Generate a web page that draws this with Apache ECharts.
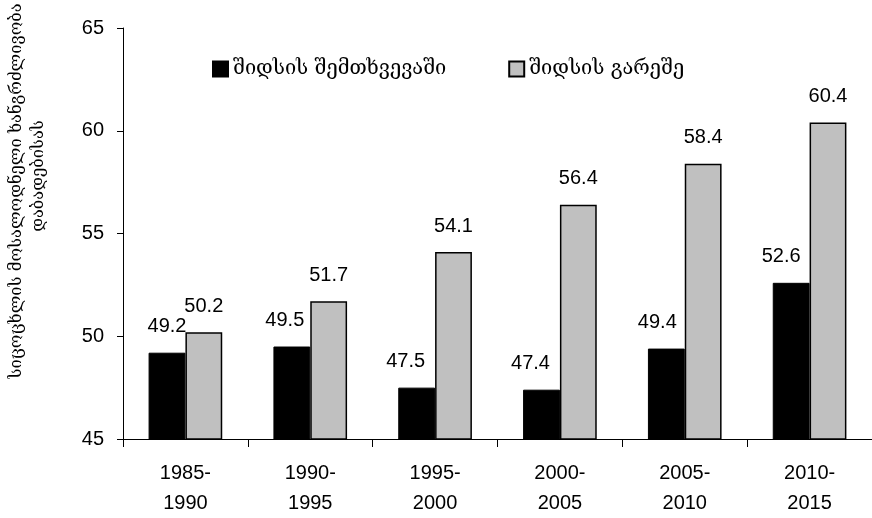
<!DOCTYPE html>
<html>
<head>
<meta charset="utf-8">
<script src="https://cdn.jsdelivr.net/npm/echarts@6/dist/echarts.min.js"></script>
<style>
  html, body { margin: 0; padding: 0; background: #fff; }
  #chart { width: 872px; height: 518px; }
</style>
</head>
<body>
<div id="chart"></div>
<script>
// Life expectancy at birth, by five-year period, with and without AIDS
const periods = ['1985-\n1990', '1990-\n1995', '1995-\n2000', '2000-\n2005', '2005-\n2010', '2010-\n2015'];
const withAids = [49.2, 49.5, 47.5, 47.4, 49.4, 52.6];
const withoutAids = [50.2, 51.7, 54.1, 56.4, 58.4, 60.4];
const seriesNames = ['შიდსის შემთხვევაში', 'შიდსის გარეშე'];
const yTitleLines = ['სიცოცხლის მოსალოდნელი ხანგრძლივობა', 'დაბადებისას'];

// horizontal nudge of the dark-bar value labels so they clear the grey bars
const darkLabelShift = [0, -7, -11, -11, -9, -10];

const latin = 'Liberation Sans, Arial, sans-serif';
const geo = 'DejaVu Serif, DejaVu Sans, serif';

const valueLabel = {
  show: true, position: 'top', distance: 16,
  color: '#000', fontFamily: latin, fontSize: 20,
  formatter: p => p.value.toFixed(1)
};

const chart = echarts.init(document.getElementById('chart'));
chart.setOption({
  animation: false,
  backgroundColor: '#ffffff',
  grid: { left: 123, top: 28, width: 758, height: 411, containLabel: false },
  legend: {
    top: 54,
    left: 207,
    itemWidth: 15,
    itemHeight: 15,
    itemGap: 62,
    textStyle: { fontFamily: geo, fontSize: 20, color: '#000' },
    data: [
      { name: seriesNames[0], icon: 'rect' },
      { name: seriesNames[1], icon: 'rect', itemStyle: { borderWidth: 2, borderColor: '#000' } }
    ]
  },
  xAxis: {
    type: 'category',
    data: periods,
    axisLine: { lineStyle: { color: '#000', width: 1 } },
    axisTick: { show: true, length: 8, lineStyle: { color: '#000' } },
    axisLabel: { color: '#000', fontFamily: latin, fontSize: 20, lineHeight: 30, margin: 19 }
  },
  yAxis: {
    type: 'value',
    min: 45,
    max: 65,
    interval: 5,
    splitLine: { show: false },
    axisLine: { show: true, lineStyle: { color: '#000', width: 1 } },
    axisTick: { show: true, length: 6, lineStyle: { color: '#000' } },
    axisLabel: { color: '#000', fontFamily: latin, fontSize: 20, margin: 19 }
  },
  graphic: [
    {
      type: 'text',
      x: 8, y: 191,
      rotation: Math.PI / 2,
      style: {
        text: yTitleLines[0],
        fontFamily: geo, fontSize: 16.5, fill: '#000',
        align: 'center', verticalAlign: 'top'
      }
    },
    {
      type: 'text',
      x: 30, y: 176,
      rotation: Math.PI / 2,
      style: {
        text: yTitleLines[1],
        fontFamily: geo, fontSize: 16.5, fill: '#000',
        align: 'center', verticalAlign: 'top'
      }
    }
  ],
  series: [
    {
      name: seriesNames[0],
      type: 'bar',
      data: withAids.map((v, i) => ({ value: v, label: { offset: [darkLabelShift[i], 0] } })),
      barGap: '0%',
      barCategoryGap: '41%',
      itemStyle: { color: '#000000', borderColor: '#000', borderWidth: 1 },
      label: valueLabel
    },
    {
      name: seriesNames[1],
      type: 'bar',
      data: withoutAids,
      itemStyle: { color: '#c0c0c0', borderColor: '#000', borderWidth: 1.5 },
      label: valueLabel
    }
  ]
});
</script>
</body>
</html>
